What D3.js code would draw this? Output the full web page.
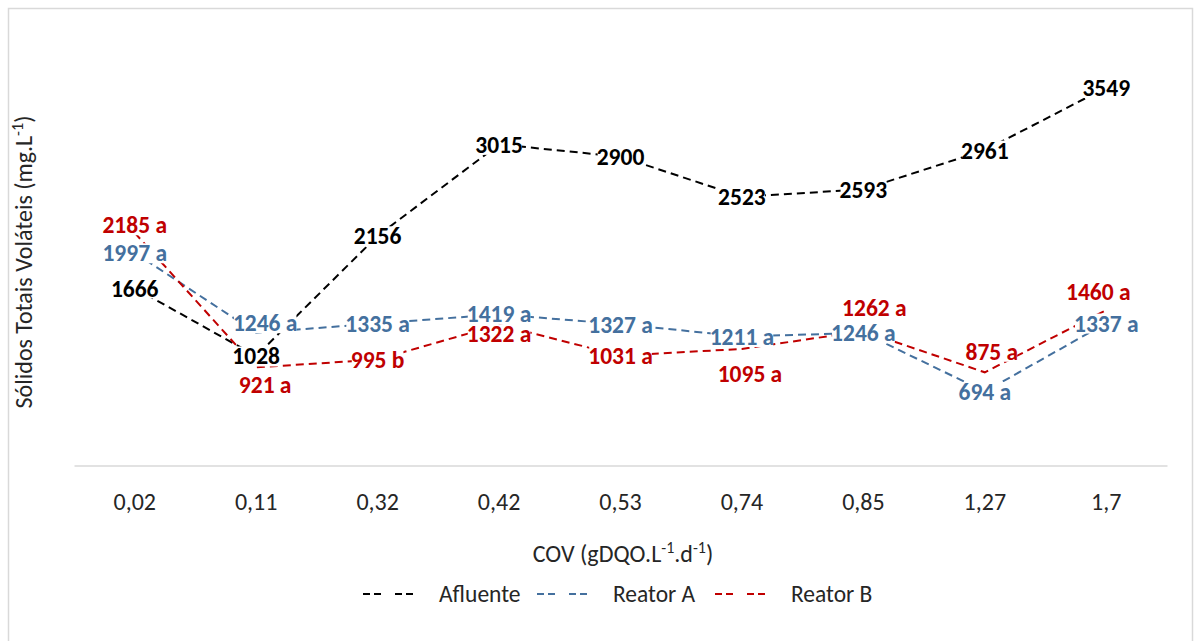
<!DOCTYPE html>
<html>
<head>
<meta charset="utf-8">
<script src="https://cdn.jsdelivr.net/npm/d3@7"></script>
<style>
  html, body { margin: 0; padding: 0; background: #fff; }
  svg { display: block; font-family: Carlito, Calibri, Lato, sans-serif; }
</style>
</head>
<body>
<svg id="chart" width="1196" height="641"></svg>
<script>
// ---- data ----
const categories = ["0,02", "0,11", "0,32", "0,42", "0,53", "0,74", "0,85", "1,27", "1,7"];
const afluente = [1666, 1028, 2156, 3015, 2900, 2523, 2593, 2961, 3549];
const reatorA = [1997, 1246, 1335, 1419, 1327, 1211, 1246, 694, 1337];
const reatorB = [2185, 921, 995, 1322, 1031, 1095, 1262, 875, 1460];
const lettersA = ["a", "a", "a", "a", "a", "a", "a", "a", "a"];
const lettersB = ["a", "a", "b", "a", "a", "a", "a", "a", "a"];
const seriesNames = ["Afluente", "Reator A", "Reator B"];

// label nudges (px) relative to the point, kept apart from the data
const nudgeAfl = [[0,0],[0,0],[0,0],[0,0],[0,0],[0,0],[0,0],[0,0],[0,0]];
const nudgeA = [[0,0],[9,-10],[0,0],[0,-1],[0,0],[0,0],[0,0],[0,0],[0,0]];
const nudgeB = [[0,-8],[9,17],[0,0],[0,9],[0,0],[8,25],[11,-24],[7,-21],[-8,-18]];

const colors = { "Afluente": "#000000", "Reator A": "#44709E", "Reator B": "#C00000" };

const svg = d3.select("#chart");

// chart border
svg.append("rect")
  .attr("x", 8.5).attr("y", 8.5).attr("width", 1184).attr("height", 640)
  .attr("fill", "none").attr("stroke", "#d9d9d9").attr("stroke-width", 1.5);

const x = d3.scaleBand().domain(categories).range([74, 1167]);
const y = d3.scaleLinear().domain([0, 4000]).range([465.5, 39.5]);
const cx = c => x(c) + x.bandwidth() / 2;

// x axis
const xAxis = svg.append("g")
  .attr("transform", `translate(0,${y(0)})`)
  .call(d3.axisBottom(x).tickSize(0).tickPadding(27));
xAxis.select(".domain").attr("stroke", "#d9d9d9").attr("stroke-width", 1.5);
xAxis.selectAll("text")
  .attr("font-family", "Carlito, Calibri, Lato, sans-serif")
  .attr("font-size", 24).attr("fill", "#262626");

// lines
const series = [
  { name: "Afluente", values: afluente, letters: null, nudge: nudgeAfl },
  { name: "Reator A", values: reatorA, letters: lettersA, nudge: nudgeA },
  { name: "Reator B", values: reatorB, letters: lettersB, nudge: nudgeB }
];

const line = d3.line().x((d, i) => cx(categories[i])).y(d => y(d));

series.forEach(s => {
  svg.append("path")
    .datum(s.values)
    .attr("d", line)
    .attr("fill", "none")
    .attr("stroke", colors[s.name])
    .attr("stroke-width", 2)
    .attr("stroke-dasharray", "8,5");
});

// data labels (white boxes above lines)
series.forEach(s => {
  const g = svg.append("g");
  s.values.forEach((v, i) => {
    const lx = cx(categories[i]) + s.nudge[i][0];
    const ly = y(v) + s.nudge[i][1];
    const txt = s.letters ? `${v} ${s.letters[i]}` : `${v}`;
    const lg = g.append("g");
    const t = lg.append("text")
      .attr("x", lx).attr("y", ly).attr("dy", "0.36em")
      .attr("text-anchor", "middle")
      .attr("font-size", 23.5).attr("font-weight", "bold")
      .attr("fill", colors[s.name])
      .text(txt);
    const bb = t.node().getBBox();
    lg.insert("rect", "text")
      .attr("x", bb.x + 1).attr("y", bb.y + 4)
      .attr("width", bb.width - 2).attr("height", bb.height - 8)
      .attr("fill", "#fff");
  });
});

// y axis title
const yTitle = svg.append("text")
  .attr("transform", "translate(32,262) rotate(-90)")
  .attr("text-anchor", "middle")
  .attr("font-size", 24).attr("fill", "#262626");
yTitle.append("tspan").text("Sólidos Totais Voláteis (mg.L");
yTitle.append("tspan").attr("font-size", 16).attr("baseline-shift", "super").text("-1");
yTitle.append("tspan").text(")");

// x axis title
const xTitle = svg.append("text")
  .attr("x", 623).attr("y", 554).attr("dy", "0.35em")
  .attr("text-anchor", "middle")
  .attr("font-size", 24).attr("fill", "#262626");
xTitle.append("tspan").text("COV (gDQO.L");
xTitle.append("tspan").attr("font-size", 16).attr("baseline-shift", "super").text("-1");
xTitle.append("tspan").text(".d");
xTitle.append("tspan").attr("font-size", 16).attr("baseline-shift", "super").text("-1");
xTitle.append("tspan").text(")");

// legend
const legendX = [363, 537, 715];
const legendY = 594;
seriesNames.forEach((n, i) => {
  const g = svg.append("g");
  [[0, 18], [32, 50]].forEach(seg => {
    g.append("line")
      .attr("x1", legendX[i] + seg[0]).attr("x2", legendX[i] + seg[1])
      .attr("y1", legendY).attr("y2", legendY)
      .attr("stroke", colors[n]).attr("stroke-width", 2)
      .attr("stroke-dasharray", "7,4");
  });
  g.append("text")
    .attr("x", legendX[i] + 76).attr("y", legendY).attr("dy", "0.35em")
    .attr("font-size", 23.5).attr("fill", "#262626")
    .text(n);
});
</script>
</body>
</html>
